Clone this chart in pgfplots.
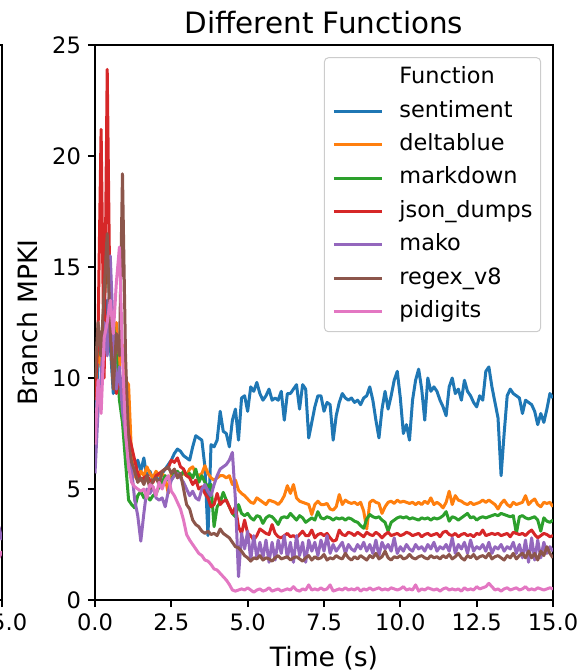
\documentclass[border=0pt]{standalone}
\usepackage{pgfplots}
\pgfplotsset{compat=1.18}
\usepackage{pgfplotstable}
\usepackage{fontspec}
\setmainfont{DejaVu Sans}

\definecolor{c0}{HTML}{1F77B4}
\definecolor{c1}{HTML}{FF7F0E}
\definecolor{c2}{HTML}{2CA02C}
\definecolor{c3}{HTML}{D62728}
\definecolor{c4}{HTML}{9467BD}
\definecolor{c5}{HTML}{8C564B}
\definecolor{c6}{HTML}{E377C2}

% Branch MPKI over time, one column per function
\pgfplotstableread{
t s d m j k r p
0.0 8.5 9.0 9.5 9.0 5.7 10.0 7.0
0.1 10.5 11.5 12.0 12.0 8.5 12.5 9.9
0.2 12.0 10.5 11.0 21.2 10.0 11.0 8.4
0.3 11.0 13.0 13.5 10.0 12.5 14.0 11.8
0.4 13.5 12.0 15.5 23.9 11.0 16.5 12.5
0.5 11.5 14.0 13.0 12.0 15.5 12.0 13.5
0.6 9.3 11.0 12.5 10.8 12.0 9.5 12.0
0.7 10.4 12.5 11.0 9.3 9.5 12.0 14.3
0.8 9.5 10.5 9.0 10.2 10.5 11.0 15.9
0.9 10.0 11.5 8.0 9.0 8.5 19.2 11.0
1.0 8.2 9.9 6.2 9.4 7.5 11.0 7.5
1.1 6.6 9.7 4.5 7.5 6.2 7.0 6.0
1.2 6.0 6.4 4.3 6.9 5.9 6.2 5.3
1.3 5.6 5.6 4.15 6.3 4.5 5.8 5.1
1.4 6.3 5.4 4.7 5.7 3.8 5.3 5.0
1.5 5.8 5.8 4.9 5.4 2.65 5.5 4.9
1.6 6.4 5.6 4.6 5.5 3.9 5.2 5.0
1.7 5.5 6.0 4.7 5.6 5.0 5.6 4.6
1.8 5.8 5.7 4.5 5.4 4.8 5.0 5.2
1.9 5.4 5.5 4.7 5.3 5.1 5.4 5.1
2.0 5.6 5.8 4.8 5.6 4.6 5.5 4.7
2.1 5.3 5.6 5.1 5.7 4.5 5.2 5.3
2.2 5.7 5.7 5.3 5.8 4.6 5.8 5.0
2.3 5.9 5.5 5.6 5.9 4.2 5.9 5.4
2.4 6.1 4.8 5.4 5.95 4.9 6.0 5.6
2.5 6.3 5.7 5.4 6.3 5.4 5.7 4.9
2.6 6.6 5.8 5.7 6.2 5.6 5.9 4.7
2.7 6.8 5.6 5.8 6.4 5.7 5.5 4.4
2.8 6.7 5.6 5.6 6.0 5.5 5.7 4.1
2.9 6.5 5.7 5.8 5.9 5.3 5.0 3.6
3.0 6.4 5.6 5.6 5.6 5.0 4.3 2.95
3.1 6.3 5.9 5.7 5.5 4.7 4.1 2.7
3.2 6.9 6.0 5.5 5.2 4.9 3.6 2.5
3.3 7.4 5.7 5.9 5.4 4.6 3.4 2.3
3.4 7.3 5.6 5.3 5.0 4.5 3.3 2.1
3.5 7.2 5.7 5.6 5.1 5.0 3.1 2.0
3.6 6.0 6.05 5.3 4.8 5.2 3.0 1.8
3.7 2.9 5.7 5.1 4.6 4.9 3.1 1.75
3.8 7.0 5.5 5.2 4.2 4.7 2.95 1.6
3.9 6.9 5.4 3.3 4.3 5.2 3.0 1.4
4.0 7.2 5.5 4.2 4.8 5.6 2.9 1.35
4.1 8.5 5.6 4.4 4.3 5.9 3.2 1.2
4.2 7.6 5.6 4.85 4.45 6.0 3.0 1.05
4.3 7.5 5.5 4.5 4.5 6.1 2.9 0.9
4.4 6.9 5.6 4.2 4.2 6.3 2.8 0.7
4.5 8.1 5.2 3.9 3.9 6.65 2.6 0.45
4.6 8.6 5.4 3.75 4.2 4.5 2.4 0.4
4.7 7.2 4.95 4.3 3.3 1.05 2.35 0.45
4.8 9.1 4.8 3.9 3.0 3.0 2.2 0.5
4.9 9.2 4.7 3.8 3.6 2.3 2.0 0.45
5.0 8.5 4.55 3.9 3.0 3.1 1.9 0.55
5.1 9.6 4.4 3.7 2.9 1.8 1.75 0.45
5.2 9.4 4.35 3.6 2.7 2.9 1.9 0.35
5.3 9.8 4.6 3.8 2.9 1.9 1.85 0.45
5.4 9.3 4.5 3.75 3.2 2.6 2.0 0.5
5.5 9.0 4.4 3.45 3.1 1.9 1.8 0.4
5.6 9.2 4.3 3.7 3.0 2.7 1.9 0.45
5.7 9.5 4.5 3.8 2.95 1.7 1.85 0.55
5.8 9.0 4.45 3.75 3.4 2.6 1.75 0.4
5.9 9.1 4.4 3.6 3.0 1.8 1.9 0.45
6.0 9.0 4.3 3.4 2.85 2.7 2.0 0.5
6.1 9.4 4.45 3.7 2.8 2.1 1.85 0.4
6.2 8.1 4.7 3.75 2.9 2.9 1.9 0.45
6.3 9.3 5.15 3.7 3.0 1.9 1.95 0.5
6.4 9.3 4.8 3.9 2.85 2.6 1.8 0.45
6.5 9.5 5.2 3.75 2.9 1.7 1.9 0.6
6.6 9.7 4.6 3.6 2.8 2.9 1.95 0.45
6.7 8.6 4.45 3.8 2.95 2.0 1.85 0.4
6.8 9.7 4.4 3.7 3.1 2.6 1.75 0.5
6.9 9.5 4.35 3.5 2.9 1.7 1.9 0.45
7.0 7.3 4.3 3.6 2.9 2.7 2.0 0.68
7.1 8.0 3.85 3.7 3.15 2.2 1.8 0.45
7.2 8.7 4.3 3.6 2.8 2.6 1.95 0.5
7.3 9.2 4.45 3.98 2.95 2.0 1.85 0.45
7.4 9.2 4.3 3.7 3.0 2.7 1.9 0.55
7.5 8.5 4.3 3.65 2.9 2.2 2.05 0.45
7.6 8.9 4.35 3.75 3.0 2.9 1.8 0.5
7.7 8.8 4.1 3.7 2.8 2.1 1.9 0.68
7.8 7.2 4.05 3.6 2.65 2.5 1.85 0.4
7.9 8.3 4.2 3.7 2.7 2.2 2.0 0.45
8.0 8.9 4.75 3.65 3.15 2.4 1.9 0.5
8.1 9.3 4.3 3.7 2.95 2.6 1.85 0.45
8.2 9.1 4.5 3.6 2.9 2.1 2.1 0.55
8.3 9.0 4.4 3.7 3.05 2.5 1.9 0.45
8.4 9.1 4.35 3.65 3.0 2.3 1.8 0.5
8.5 8.9 4.4 3.55 2.9 2.2 1.95 0.45
8.6 9.0 4.3 3.5 3.05 2.5 1.85 0.55
8.7 8.8 4.4 3.35 2.95 2.3 2.0 0.4
8.8 9.1 4.0 3.23 2.85 2.6 1.9 0.5
8.9 9.2 3.2 3.65 3.05 2.2 1.8 0.45
9.0 9.6 4.4 3.85 2.95 2.5 2.0 0.55
9.1 9.0 4.5 3.75 2.9 2.1 1.9 0.45
9.2 8.1 4.4 3.7 3.05 2.7 2.1 0.5
9.3 7.3 4.35 3.75 2.95 2.0 1.85 0.55
9.4 8.6 3.9 3.6 2.8 2.6 1.95 0.45
9.5 9.4 4.2 3.5 2.95 2.3 2.2 0.5
9.6 8.6 4.4 3.1 3.05 2.5 1.9 0.45
9.7 9.2 4.45 3.5 2.9 2.2 1.8 0.55
9.8 9.9 4.35 3.6 2.95 2.8 1.95 0.5
9.9 10.3 4.5 3.7 3.0 2.1 1.9 0.45
10.0 9.1 4.4 3.75 2.9 2.4 2.0 0.5
10.1 7.5 4.45 3.7 2.95 2.2 1.85 0.6
10.2 7.9 4.4 3.75 3.05 2.5 1.9 0.45
10.3 7.2 4.35 3.65 3.0 2.3 2.05 0.5
10.4 9.0 4.4 3.7 2.9 2.2 1.9 0.45
10.5 9.9 4.3 3.65 2.95 2.5 1.85 0.68
10.6 10.4 4.4 3.6 3.0 2.3 1.95 0.4
10.7 9.5 4.3 3.7 2.85 2.4 2.0 0.5
10.8 8.1 4.45 3.65 2.95 2.2 1.9 0.45
10.9 10.0 4.35 3.7 3.0 2.5 1.85 0.55
11.0 9.4 4.6 3.6 2.9 2.3 2.0 0.5
11.1 9.6 4.3 3.7 2.95 2.6 1.9 0.45
11.2 9.4 4.4 3.65 3.0 2.2 1.95 0.5
11.3 9.0 4.3 3.7 2.85 2.4 1.85 0.4
11.4 8.7 4.15 3.8 3.05 2.3 2.0 0.5
11.5 8.3 4.4 3.98 3.1 2.5 1.9 0.55
11.6 9.6 4.9 3.55 2.95 2.2 2.05 0.45
11.7 10.0 4.3 3.75 2.9 2.8 1.85 0.5
11.8 9.3 4.7 3.7 3.0 2.1 1.95 0.45
11.9 9.5 4.5 3.6 2.85 2.5 2.1 0.5
12.0 9.0 4.45 3.7 2.95 2.3 1.9 0.4
12.1 9.9 4.35 3.8 3.0 2.6 1.8 0.55
12.2 9.4 4.3 3.9 2.9 2.1 2.0 0.45
12.3 9.2 4.4 3.7 2.95 2.7 1.9 0.5
12.4 8.9 4.3 3.75 2.85 2.2 2.05 0.45
12.5 8.7 4.35 3.6 3.0 2.4 1.85 0.6
12.6 9.2 4.4 3.7 2.95 2.3 1.95 0.5
12.7 9.0 4.5 3.75 3.15 2.5 2.0 0.55
12.8 10.3 4.4 3.7 2.9 2.2 1.9 0.6
12.9 10.5 4.5 3.75 2.95 2.6 2.1 0.75
13.0 9.6 4.4 3.8 3.0 2.1 1.85 0.6
13.1 8.9 4.3 3.85 2.95 2.4 1.95 0.45
13.2 8.2 4.1 3.8 3.0 2.3 2.0 0.5
13.3 5.6 4.35 3.9 2.9 2.5 1.9 0.4
13.4 7.5 4.5 3.85 2.95 2.2 1.8 0.5
13.5 9.2 4.3 3.8 3.0 2.4 2.0 0.55
13.6 9.5 4.2 3.75 2.85 2.3 1.9 0.45
13.7 9.3 4.4 3.8 3.05 2.6 2.1 0.5
13.8 9.2 4.3 3.0 3.0 2.1 1.85 0.55
13.9 9.1 4.35 3.75 2.95 2.5 2.0 0.45
14.0 8.4 4.4 3.8 3.0 1.9 2.1 0.5
14.1 9.0 4.7 3.7 2.9 2.7 1.9 0.6
14.2 8.9 4.3 3.65 3.05 1.7 2.2 0.45
14.3 8.8 4.45 3.7 3.15 2.8 1.9 0.5
14.4 8.5 4.55 3.75 2.95 1.8 2.1 0.45
14.5 7.9 4.3 3.6 2.8 2.7 1.8 0.55
14.6 8.4 4.2 3.1 2.9 1.9 2.2 0.5
14.7 8.0 4.4 3.7 3.0 2.6 2.0 0.45
14.8 8.6 4.35 3.55 2.95 2.1 2.4 0.5
14.9 9.3 4.4 3.5 2.85 2.4 2.1 0.55
15.0 9.1 4.2 3.6 2.9 2.2 1.9 0.5
}\mpki

\pgfplotsset{
  panel/.style={
    width=229pt, height=277.5pt, scale only axis,
    xmin=0, xmax=15, ymin=0, ymax=25,
    xtick={0,2.5,...,15}, ytick={0,5,...,25},
    xtick pos=left, ytick pos=left,
    tick align=outside, major tick length=3.5pt,
    axis line style={line width=0.9pt, black},
    every tick/.style={line width=0.9pt, black},
    /pgf/number format/assume math mode=true,
    ticklabel style={font=\fontsize{11.3pt}{13pt}\selectfont},
    xticklabel style={/pgf/number format/.cd, fixed, fixed zerofill, precision=1},
    yticklabel style={/pgf/number format/.cd, fixed, precision=0},
    every axis plot/.append style={line width=1.5pt, line join=round},
  },
}

\begin{document}
\begin{tikzpicture}
\useasboundingbox (-47.5pt,-35.5pt) rectangle (243pt,300pt);
\clip (-47.5pt,-35.5pt) rectangle (243pt,300pt);

% right edge of the neighbouring panel
\begin{axis}[panel, at={(-46.5pt,0pt)}, anchor=south east]
\addplot[c4] coordinates {(14.9,3.3) (15,2.7)};
\addplot[c6] coordinates {(14.9,1.9) (15,2.2)};
\end{axis}

\begin{axis}[panel, at={(0pt,0pt)}, anchor=south west,
  title={Different Functions},
  title style={at={(axis description cs:0.5,1.0)}, anchor=base,
    font=\fontsize{14.7pt}{17pt}\selectfont},
  xlabel={Time (s)},
  xlabel style={at={(axis description cs:0.5,-0.1204)}, anchor=base,
    font=\fontsize{13.3pt}{16pt}\selectfont},
  ylabel={Branch MPKI},
  ylabel style={at={(axis description cs:-0.1251,0.5)}, anchor=base,
    font=\fontsize{13.3pt}{16pt}\selectfont},
  legend style={at={(axis description cs:0.974,0.978)}, anchor=north east,
    draw=black!20, line width=0.5pt, rounded corners=2pt,
    fill=white, fill opacity=0.8, text opacity=1,
    font=\fontsize{11.2pt}{13pt}\selectfont,
    inner xsep=4pt, inner ysep=4.5pt,
    row sep=5.6pt, column sep=8pt,
    nodes={inner sep=0pt, text height=8.5pt, text depth=2.6pt}},
  legend cell align=left,
  legend image code/.code={\draw[#1, line width=1.5pt] (0pt,0pt) -- (24pt,0pt);},
]
\addlegendimage{empty legend}
\addlegendentry{Function}
\addplot[c0] table[x=t, y=s] {\mpki};
\addlegendentry{sentiment}
\addplot[c1] table[x=t, y=d] {\mpki};
\addlegendentry{deltablue}
\addplot[c2] table[x=t, y=m] {\mpki};
\addlegendentry{markdown}
\addplot[c3] table[x=t, y=j] {\mpki};
\addlegendentry{json\_dumps}
\addplot[c4] table[x=t, y=k] {\mpki};
\addlegendentry{mako}
\addplot[c5] table[x=t, y=r] {\mpki};
\addlegendentry{regex\_v8}
\addplot[c6] table[x=t, y=p] {\mpki};
\addlegendentry{pidigits}
\end{axis}
\end{tikzpicture}
\end{document}
